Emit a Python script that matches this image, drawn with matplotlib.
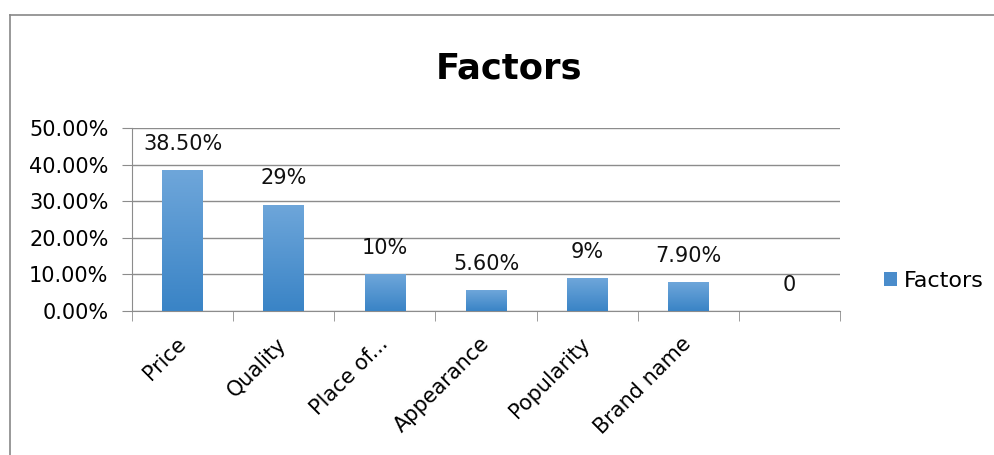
import numpy as np
import matplotlib
matplotlib.use('Agg')
import matplotlib.pyplot as plt
from matplotlib.lines import Line2D
from matplotlib.patches import Patch

plt.rcParams['font.family'] = ['DejaVu Sans']

# data
categories = ['Price', 'Quality', 'Place of...', 'Appearance', 'Popularity', 'Brand name', '']
values = [38.5, 29.0, 10.0, 5.6, 9.0, 7.9, 0.0]
value_labels = ['38.50%', '29%', '10%', '5.60%', '9%', '7.90%', '0']
y_ticks = [0, 10, 20, 30, 40, 50]
series_name = 'Factors'

BLUE = '#4A8CCB'
GRID = '#8C8C8C'
FS = 15

fig = plt.figure(figsize=(9.94, 4.55), dpi=100)
ax = fig.add_axes([0.1328, 0.3165, 0.7123, 0.4022])

x = np.arange(len(categories))
bars = ax.bar(x, values, width=0.4, color=BLUE, zorder=3)

# vertical gradient inside each bar (lighter top, darker bottom)
grad = np.linspace(0, 1, 64).reshape(-1, 1)
cmap = matplotlib.colors.LinearSegmentedColormap.from_list('g', ['#3A84C6', '#6EA6DA'])
for b in bars:
    if b.get_height() <= 0:
        continue
    x0, w, h = b.get_x(), b.get_width(), b.get_height()
    im = ax.imshow(grad, extent=[x0, x0 + w, 0, h], origin='lower', cmap=cmap,
                   aspect='auto', zorder=3.5)
    im.set_clip_path(b)

for xi, v, lab in zip(x, values, value_labels):
    ax.annotate(lab, (xi, v), xytext=(0, 19), textcoords='offset points',
                ha='center', va='center', fontsize=FS, color='#111111')

ax.set_xlim(-0.5, len(categories) - 0.5)
ax.set_ylim(0, 50)
ax.set_yticks(y_ticks)
ax.set_yticklabels([f'{t:.2f}%' for t in y_ticks], fontsize=FS)
ax.yaxis.grid(True, color=GRID, lw=1)
ax.set_axisbelow(True)

ax.set_xticks(x)
ax.set_xticklabels(categories, rotation=45, ha='right', va='center',
                   rotation_mode='anchor', fontsize=FS)
ax.tick_params(axis='x', length=0, pad=21.5)
ax.set_xticks(np.arange(len(categories) + 1) - 0.5, minor=True)
ax.tick_params(axis='x', which='minor', length=7, color=GRID, direction='out')
ax.tick_params(axis='y', length=7, color=GRID, direction='out', pad=10)

for s in ['top', 'right']:
    ax.spines[s].set_visible(False)
for s in ['left', 'bottom']:
    ax.spines[s].set_color(GRID)

fig.text(0.512, 0.85, 'Factors', ha='center', va='center', fontsize=25.5, weight='bold')

handle = Patch(facecolor=BLUE, edgecolor='none', label=series_name)
fig.legend(handles=[handle], loc='center left', bbox_to_anchor=(0.889, 0.383),
           frameon=False, fontsize=16, handlelength=0.62, handleheight=0.62,
           handletextpad=0.3, borderpad=0, borderaxespad=0)

# outer chart border
fig.add_artist(Line2D([10 / 994, 1], [1 - 15 / 455, 1 - 15 / 455], color='#888888', lw=1.2))
fig.add_artist(Line2D([10 / 994, 10 / 994], [0, 1 - 15 / 455], color='#888888', lw=1.2))

fig.savefig('out.png', dpi=100)
